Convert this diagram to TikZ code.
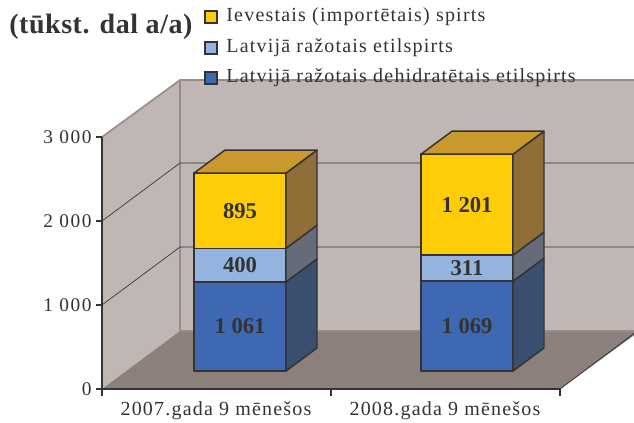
\documentclass[tikz,border=0pt]{standalone}
\usepackage{fontspec}
\setmainfont{Liberation Serif}
\usepackage{tikz}

\definecolor{wallc}{HTML}{C0B6B4}
\definecolor{floorc}{HTML}{8C807D}
\definecolor{edgec}{HTML}{988B89}
\definecolor{inkc}{HTML}{333333}
\definecolor{blufront}{HTML}{3E69B2}
\definecolor{bluside}{HTML}{3A4E70}
\definecolor{lbfront}{HTML}{95B3DF}
\definecolor{lbside}{HTML}{656B78}
\definecolor{yelfront}{HTML}{FFCC08}
\definecolor{yelside}{HTML}{8F6E37}
\definecolor{yeltop}{HTML}{C9992C}

% one block of a stacked bar: left x, bottom y, top y, front colour, side colour
\newcommand{\barpart}[5]{%
  \filldraw[barline,fill=#4] (#1,#2) rectangle ({#1+92},#3);
  \filldraw[barline,fill=#5] ({#1+92},#2) -- ++(31,-23) -- ({#1+123},{#3-23}) -- ({#1+92},#3) -- cycle;
}

\begin{document}
\begin{tikzpicture}[x=0.75pt,y=-0.75pt,
    barline/.style={draw=inkc,line width=1.1pt,line join=round},
    gridln/.style={draw=inkc,line width=0.5pt},
    wallln/.style={draw=edgec,line width=1.2pt},
    ticklbl/.style={text=inkc,font=\fontsize{14.5}{16}\selectfont\addfontfeature{LetterSpace=8}},
    catlbl/.style={text=inkc,font=\fontsize{15}{16}\selectfont\addfontfeature{LetterSpace=6}},
    vallbl/.style={text=inkc,font=\fontsize{17}{19}\selectfont\bfseries},
    legtxt/.style={text=inkc,anchor=west,font=\fontsize{15}{16}\selectfont\addfontfeature{LetterSpace=6}},
    legbox/.style={draw=inkc,line width=1pt,minimum size=9pt,inner sep=0pt}]
  \useasboundingbox (0,0) rectangle (634,423);

  % walls and floor
  \fill[wallc] (102,137) -- (180,80) -- (640,80) -- (640,331) -- (180,331) -- (102,389) -- cycle;
  \fill[floorc] (102,389) -- (180,331) -- (640,331) -- (560,389) -- cycle;
  \draw[wallln] (102,137) -- (180,80) -- (640,80);
  \draw[wallln] (180,80) -- (180,331) -- (640,331);
  \foreach \v in {1000,2000}
    \draw[gridln] (102,{389-0.084*\v}) -- ++(78,-58) -- (640,{331-0.084*\v});

  % axes
  \draw[inkc,line width=0.8pt] (102,137) -- (102,389) -- (560,389);
  \draw[inkc,line width=0.6pt] (560,389) -- (640,329);
  \foreach \v/\t in {0/0,1000/1 000,2000/2 000,3000/3 000}
    \draw[inkc,line width=0.8pt] (102,{389-0.084*\v}) -- ++(-6,0)
      node[ticklbl,anchor=east,inner xsep=3pt] {\t};
  \foreach \x in {102,331,560}
    \draw[inkc,line width=0.8pt] (\x,389) -- ++(0,7);
  \node[catlbl] (lab07) at (216,411) {2007.gada 9 mēnešos};
  \node[catlbl] (lab08) at (445,411) {2008.gada 9 mēnešos};

  % bars
  \barpart{194}{371}{281.9}{blufront}{bluside}
  \barpart{194}{281.9}{248.3}{lbfront}{lbside}
  \barpart{194}{248.3}{173.1}{yelfront}{yelside}
  \filldraw[barline,fill=yeltop] (194,173.1) -- ++(31,-23) -- ++(92,0) -- ++(-31,23) -- cycle;
  \barpart{421}{371}{281.2}{blufront}{bluside}
  \barpart{421}{281.2}{255.1}{lbfront}{lbside}
  \barpart{421}{255.1}{154.2}{yelfront}{yelside}
  \filldraw[barline,fill=yeltop] (421,154.2) -- ++(31,-23) -- ++(92,0) -- ++(-31,23) -- cycle;

  \node[vallbl] (a1) at (240,326) {1 061};
  \node[vallbl] (a2) at (240,265) {400};
  \node[vallbl] (a3) at (240,211) {895};
  \node[vallbl] (b1) at (467,326) {1 069};
  \node[vallbl] (b2) at (467,268) {311};
  \node[vallbl] (b3) at (467,205) {1 201};

  % title and legend
  \node[anchor=west,text=inkc,inner xsep=0pt,font=\fontsize{21}{23}\selectfont\bfseries\addfontfeature{LetterSpace=2}] (title) at (9,27) {(tūkst. dal a/a)};
  \node[legbox,fill=yelfront] (k1) at (211,17) {};
  \node[legbox,fill=lbfront] (k2) at (211,48) {};
  \node[legbox,fill=blufront] (k3) at (211,78) {};
  \node[legtxt] at ([xshift=3pt]k1.east) {Ievestais (importētais) spirts};
  \node[legtxt] at ([xshift=3pt]k2.east) {Latvijā ražotais etilspirts};
  \node[legtxt] at ([xshift=3pt]k3.east) {Latvijā ražotais dehidratētais etilspirts};
\end{tikzpicture}
\end{document}
